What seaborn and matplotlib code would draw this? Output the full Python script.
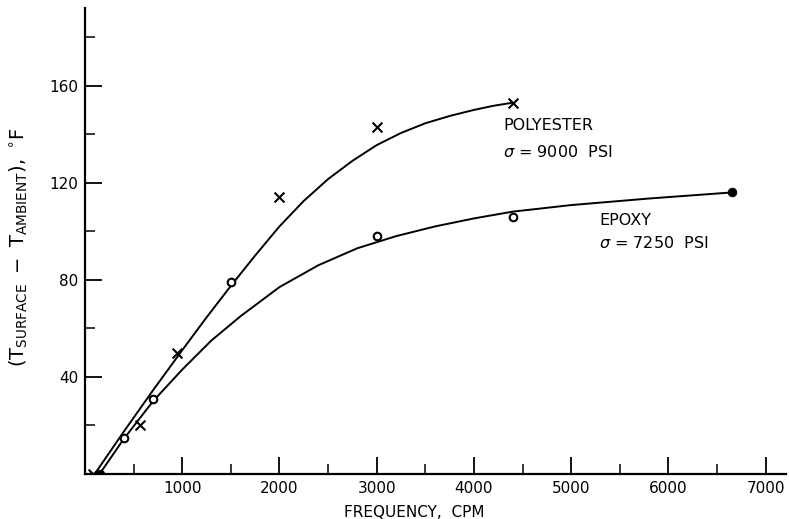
import numpy as np
import pandas as pd
import matplotlib
matplotlib.use("Agg")
import matplotlib.pyplot as plt
import seaborn as sns
from matplotlib.ticker import MultipleLocator, FixedLocator


# 1. Data

# measured points
poly_freq = [80, 570, 950, 2000, 3000, 4400]
poly_temp = [0, 20, 50, 114, 143, 153]

epoxy_freq = [150, 400, 700, 1500, 3000, 4400, 6650]
epoxy_temp = [0, 15, 31, 79, 98, 106, 116]
epoxy_filled = [True, False, False, False, False, False, True]

# hand-faired curves
poly_curve_freq = [100, 400, 700, 1000, 1250, 1500, 1750, 2000, 2250, 2500, 2750,
                   3000, 3250, 3500, 3750, 4000, 4200, 4400]
poly_curve_temp = [0, 17.5, 34.5, 51, 64.5, 77.5, 90, 102, 112.5, 121.5, 129,
                   135.5, 140.5, 144.5, 147.5, 150, 151.7, 153]

epoxy_curve_freq = [150, 400, 700, 1000, 1300, 1600, 2000, 2400, 2800, 3200, 3600,
                    4000, 4400, 5000, 5800, 6650]
epoxy_curve_temp = [0, 14.5, 30, 43, 55, 65, 77, 86, 93, 98, 102,
                    105.3, 108.1, 110.8, 113.5, 116]

x_ticks = [1000, 2000, 3000, 4000, 5000, 6000, 7000]
y_ticks = [40, 80, 120, 160]

df_poly = pd.DataFrame({"freq": poly_freq, "temp": poly_temp})
df_epoxy = pd.DataFrame({"freq": epoxy_freq, "temp": epoxy_temp, "filled": epoxy_filled})
df_poly_curve = pd.DataFrame({"freq": poly_curve_freq, "temp": poly_curve_temp})
df_epoxy_curve = pd.DataFrame({"freq": epoxy_curve_freq, "temp": epoxy_curve_temp})


# 2. Plot

sns.set_style("ticks")
plt.rcParams["font.family"] = ["DejaVu Sans"]
plt.rcParams["mathtext.fontset"] = "dejavusans"
for key in ["text.color", "axes.labelcolor", "xtick.color", "ytick.color", "axes.edgecolor"]:
    plt.rcParams[key] = "black"

fig = plt.figure(figsize=(7.89, 5.19), dpi=100)
ax = fig.add_axes([0.1077, 0.0867, 0.8885, 0.8979])

for curve in [df_poly_curve, df_epoxy_curve]:
    sns.lineplot(data=curve, x="freq", y="temp", color="black", lw=1.4, ax=ax,
                 sort=False, solid_joinstyle="round", solid_capstyle="round")

sns.scatterplot(data=df_poly, x="freq", y="temp", marker="x", s=50, color="black",
                linewidth=1.5, ax=ax, zorder=3)
open_pts = df_epoxy[~df_epoxy["filled"]]
filled_pts = df_epoxy[df_epoxy["filled"]]
sns.scatterplot(data=open_pts, x="freq", y="temp", marker="o", s=30, facecolor="white",
                edgecolor="black", linewidth=1.5, ax=ax, zorder=4)
sns.scatterplot(data=filled_pts, x="freq", y="temp", marker="o", s=40, color="black",
                edgecolor="black", ax=ax, zorder=4)

ax.set_xlim(0, 7210)
ax.set_ylim(0, 192)

ax.xaxis.set_major_locator(FixedLocator(x_ticks))
ax.xaxis.set_minor_locator(MultipleLocator(500))
ax.yaxis.set_major_locator(FixedLocator(y_ticks))
ax.yaxis.set_minor_locator(MultipleLocator(20))
ax.tick_params(which="major", direction="in", length=12, width=1.3, labelsize=11, pad=5)
ax.tick_params(which="minor", direction="in", length=7, width=1.1)

sns.despine(ax=ax)
for side in ["left", "bottom"]:
    ax.spines[side].set_linewidth(1.6)

ax.set_xlabel("FREQUENCY,  CPM", fontsize=11)
ax.xaxis.set_label_coords(0.47, -0.067)
ax.set_ylabel(r"$(\mathrm{T_{SURFACE}}\ -\ \mathrm{T_{AMBIENT}}),\ ^{\circ}\mathrm{F}$", fontsize=14)
ax.yaxis.set_label_coords(-0.078, 0.487)

ax.text(4300, 143.5, "POLYESTER", fontsize=11.5, va="center")
ax.text(4300, 132.5, "$\\sigma$ = 9000  PSI", fontsize=11.5, va="center")
ax.text(5290, 104.5, "EPOXY", fontsize=11.5, va="center")
ax.text(5290, 95, "$\\sigma$ = 7250  PSI", fontsize=11.5, va="center")

fig.savefig("out.png", dpi=100)
